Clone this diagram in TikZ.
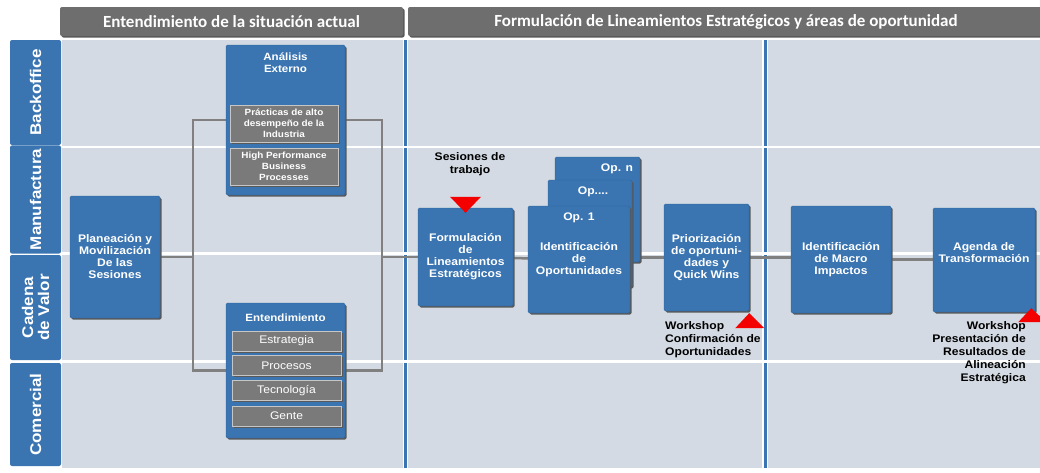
\documentclass[tikz,border=0pt]{standalone}
\usepackage{fontspec}
\setmainfont[FakeStretch=1.1]{Liberation Sans}
\newfontfamily\kopffont{Carlito}
\usetikzlibrary{shadows}
\definecolor{kblau}{HTML}{3A75B2}
\definecolor{hgrau}{HTML}{6E6E6E}
\definecolor{fgrau}{HTML}{D3DAE3}
\definecolor{igrau}{HTML}{7A7A7A}
\definecolor{lgrau}{HTML}{808080}
\definecolor{rrot}{HTML}{F50000}
\pgfdeclarelayer{grund}
\pgfdeclarelayer{linien}
\pgfsetlayers{grund,linien,main}

\begin{document}
\begin{tikzpicture}[x=1pt, y=-1pt,
        schatten/.style={drop shadow={shadow xshift=1.5pt, shadow yshift=-1.5pt, fill=black!65, opacity=1}},
        box/.style={draw=kblau!85!black, fill=kblau, rectangle, rounded corners=1.5pt, text=white, align=center, inner sep=2pt, font=\bfseries\fontsize{11}{12}\selectfont, schatten},
        sub/.style={draw=gray!45, fill=igrau, rectangle, text=white, align=center, inner sep=1pt, schatten},
        titel/.style={text=white, align=center, font=\bfseries\fontsize{10.5}{12}\selectfont},
        tab/.style={fill=kblau, rectangle, rounded corners=2pt, text=white, align=center, rotate=90, font=\bfseries\fontsize{15.5}{16}\selectfont, minimum height=51},
        kopf/.style={fill=hgrau, rectangle, rounded corners=2pt, text=white, font=\kopffont\bfseries\fontsize{17}{19}\selectfont, minimum height=29, inner sep=1pt, schatten},
        note/.style={text=black, inner sep=0pt, font=\bfseries\fontsize{11}{13}\selectfont},
        conn/.style={draw=lgrau, line width=2.5pt}]

        \useasboundingbox (0,0) rectangle (1040,472);

        % Hintergrund
        \begin{pgfonlayer}{grund}
        \fill[fgrau] (62,40) rectangle (1040,468);
        \draw[white, line width=5.5pt] (405.5,40) -- (405.5,468);
        \draw[kblau, line width=3pt] (405.5,40) -- (405.5,468);
        \draw[white, line width=5.5pt] (765,40) -- (765,468);
        \draw[kblau, line width=3pt] (765,40) -- (765,468);
        \draw[white, line width=2.5pt] (62,147) -- (1040,147);
        \draw[white, line width=2.5pt] (62,253.5) -- (1040,253.5);
        \draw[white, line width=2.5pt] (62,361.5) -- (1040,361.5);
        \end{pgfonlayer}

        \node[kopf, minimum width=343] (H1) at (231.5,21.5) {Entendimiento de la situación actual};
        \node[kopf, minimum width=636] (H2) at (726,21.5) {Formulación de Lineamientos Estratégicos y áreas de oportunidad};

        \node[tab, minimum width=105] (BO) at (35.5,92.5) {Backoffice};
        \node[tab, minimum width=102] (MA) at (35.5,199.5) {Manufactura};
        \node[tab, minimum width=105, font=\bfseries\fontsize{15.5}{16}\selectfont] (CV) at (35.5,307.5) {Cadena\\de Valor};
        \node[tab, minimum width=103] (CO) at (35.5,414.5) {Comercial};

        \node[box, minimum width=90, minimum height=122] (P) at (115,257) {Planeación y\\Movilización\\De las\\Sesiones};

        \node[box, minimum width=119, minimum height=150, label={[titel, anchor=north, yshift=-4pt]north:Análisis\\Externo}] (AE) at (285.5,120) {};
        \node[sub, minimum width=108, minimum height=37, font=\bfseries\fontsize{9}{11}\selectfont] (PA) at (284,123.5) {Prácticas de alto\\desempeño de la\\Industria};
        \node[sub, minimum width=108, minimum height=37, font=\bfseries\fontsize{9}{11}\selectfont] (HP) at (284,166.5) {High Performance\\Business\\Processes};

        \node[box, minimum width=119, minimum height=135, label={[titel, anchor=north, yshift=-8pt]north:Entendimiento}] (EN) at (285.5,370.5) {};
        \node[sub, minimum width=109, minimum height=20, font=\fontsize{11}{12}\selectfont] (ES) at (286.5,341) {Estrategia};
        \node[sub, minimum width=109, minimum height=20, font=\fontsize{11}{12}\selectfont] (PZ) at (286.5,365.5) {Procesos};
        \node[sub, minimum width=109, minimum height=20, font=\fontsize{11}{12}\selectfont] (TE) at (286.5,390.5) {Tecnología};
        \node[sub, minimum width=109, minimum height=20, font=\fontsize{11}{12}\selectfont] (GE) at (286.5,416) {Gente};

        \node[box, minimum width=95, minimum height=98] (F) at (465.5,257) {Formulación\\de\\Lineamientos\\Estratégicos};

        \node[box, minimum width=85, minimum height=105, label={[titel, anchor=north, xshift=19.5pt, yshift=-3pt, font=\bfseries\fontsize{11}{12}\selectfont]north:Op. n}] (On) at (597.5,209.5) {};
        \node[box, minimum width=84, minimum height=107, label={[titel, anchor=north, xshift=3pt, yshift=-3pt, font=\bfseries\fontsize{11}{12}\selectfont]north:Op....}] (Om) at (590,233.5) {};
        \node[box, minimum width=102, minimum height=107, label={[titel, anchor=north, yshift=-3pt, font=\bfseries\fontsize{11}{12}\selectfont]north:Op. 1}] (O1) at (579,259.5) {Identificación\\de\\Oportunidades};

        \node[box, minimum width=85, minimum height=107] (PR) at (706.5,257.5) {Priorización\\de oportuni-\\dades y\\Quick Wins};

        \node[box, minimum width=100, minimum height=107] (M) at (841,259.5) {Identificación\\de Macro\\Impactos};

        \node[box, minimum width=102, minimum height=104] (T) at (984,260) {Agenda de\\Transformación\\[2pt]~};

        \node[note, align=center] (ST) at (470,164) {Sesiones de\\trabajo};
        \node[note, align=left, anchor=north west] (WK) at (665,321) {Workshop\\Confirmación de\\Oportunidades};
        \node[note, align=right, anchor=north east] (WP) at (1026,321) {Workshop\\Presentación de\\Resultados de\\Alineación\\Estratégica};

        % Markierungen
        \fill[rrot] ([shift={(-15.5,-11)}]F.north) -- ([shift={(15.5,-11)}]F.north) -- ([shift={(0,5)}]F.north) -- cycle;
        \fill[rrot] ([shift={(-14,17)}]PR.south east) -- ([shift={(15,17)}]PR.south east) -- ([shift={(0,2)}]PR.south east) -- cycle;
        \fill[rrot] ([shift={(-17,10)}]T.south east) -- ([shift={(11,10)}]T.south east) -- ([shift={(-4,-4)}]T.south east) -- cycle;

        % Verbindungen
        \begin{pgfonlayer}{linien}
        \coordinate (jl) at (193,257);
        \coordinate (jr) at (382,257);
        \path[conn] (P) edge (jl);
        \draw[conn] (AE) -| (jl) |- (EN);
        \draw[conn] (AE) -| (jr) |- (EN);
        \path[conn] (jr) edge (F);
        \path[conn] (F) edge (O1);
        \path[conn] (O1.center |- PR) edge (PR);
        \path[conn] (PR) edge (PR -| M);
        \path[conn] (M) edge (M -| T);
        \end{pgfonlayer}

    \end{tikzpicture}
\end{document}
